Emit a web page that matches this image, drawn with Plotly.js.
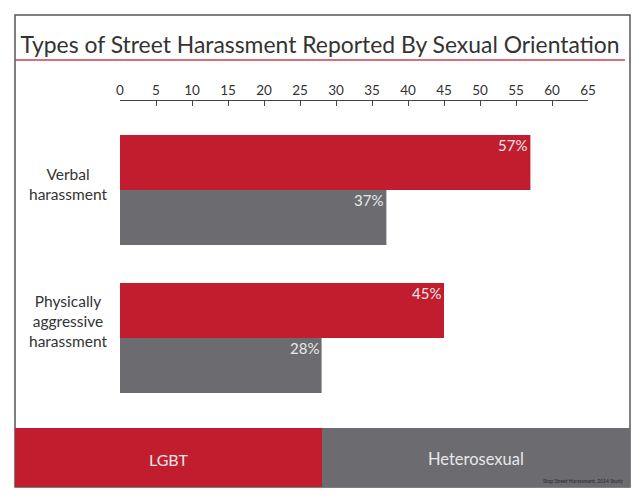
<!DOCTYPE html>
<html>
<head>
<meta charset="utf-8">
<script src="https://cdn.plot.ly/plotly-3.0.1.min.js"></script>
<style>html,body{margin:0;padding:0;background:#fff;}#chart{width:640px;height:504px;}</style>
</head>
<body>
<div id="chart"></div>
<script>
// ---- data ----
var categories = ["Verbal<br>harassment", "Physically<br>aggressive<br>harassment"];
var seriesNames = ["LGBT", "Heterosexual"];
var lgbtValues = [57, 45];
var heteroValues = [37, 28];
var tickValues = [0, 5, 10, 15, 20, 25, 30, 35, 40, 45, 50, 55, 60, 65];
var titleText = "Types of Street Harassment Reported By Sexual Orientation";
var sourceText = "Stop Street Harassment, 2014 Study";

var RED = "#c21d2f";
var GRAY = "#6b6b70";
var FONT = "Lato, 'Open Sans', sans-serif";

// layout geometry (pixels)
var W = 640, H = 504;
var M = {l: 120, r: 52, t: 100, b: 92};
var pw = W - M.l - M.r, ph = H - M.t - M.b;
function px(x) { return (x - M.l) / pw; }
function py(y) { return (H - M.b - y) / ph; }

var traces = [
  {type: "bar", orientation: "h", name: seriesNames[0], y: categories, x: lgbtValues,
   marker: {color: RED}, hoverinfo: "none"},
  {type: "bar", orientation: "h", name: seriesNames[1], y: categories, x: heteroValues,
   marker: {color: GRAY}, hoverinfo: "none"}
];

var annotations = [];
// value labels
for (var i = 0; i < categories.length; i++) {
  annotations.push({x: lgbtValues[i], y: categories[i], xref: "x", yref: "y",
    text: lgbtValues[i] + "%", showarrow: false, xanchor: "right", yanchor: "top",
    xshift: -1, yshift: 56, font: {family: FONT, size: 15, color: "#e8e8e8"}});
  annotations.push({x: heteroValues[i], y: categories[i], xref: "x", yref: "y",
    text: heteroValues[i] + "%", showarrow: false, xanchor: "right", yanchor: "top",
    xshift: -1, yshift: 1, font: {family: FONT, size: 15, color: "#e8e8e8"}});
}
// category labels
var catShift = [6, 17];
for (var j = 0; j < categories.length; j++) {
  annotations.push({x: px(68), y: categories[j], xref: "paper", yref: "y",
    text: categories[j], showarrow: false, align: "center", xanchor: "center",
    yanchor: "middle", yshift: catShift[j],
    font: {family: FONT, size: 15.5, color: "#333"}});
}
// legend labels
annotations.push({x: px(168), y: py(459), xref: "paper", yref: "paper", text: seriesNames[0],
  xanchor: "center", yanchor: "middle",
  showarrow: false, font: {family: FONT, size: 16, color: "#e8e8e8"}});
annotations.push({x: px(476), y: py(459), xref: "paper", yref: "paper", text: seriesNames[1],
  xanchor: "center", yanchor: "middle",
  showarrow: false, font: {family: FONT, size: 16.5, color: "#e8e8e8"}});
// source
annotations.push({x: px(625), y: py(481), xref: "paper", yref: "paper", text: sourceText,
  showarrow: false, xanchor: "right", yanchor: "middle",
  font: {family: FONT, size: 5, color: "#2a2a2a"}});

var shapes = [
  // outer border
  {type: "rect", xref: "paper", yref: "paper", x0: px(15), x1: px(630), y0: py(487), y1: py(15),
   line: {color: "#555", width: 1.5}, fillcolor: "rgba(0,0,0,0)", layer: "below"},
  // title underline
  {type: "line", xref: "paper", yref: "paper", x0: px(15), x1: px(625), y0: py(60), y1: py(60),
   line: {color: "#cc3e52", width: 1.5}},
  // legend blocks
  {type: "rect", xref: "paper", yref: "paper", x0: px(15), x1: px(322), y0: py(487), y1: py(428),
   line: {width: 0}, fillcolor: RED},
  {type: "rect", xref: "paper", yref: "paper", x0: px(322), x1: px(630), y0: py(487), y1: py(428),
   line: {width: 0}, fillcolor: GRAY}
];

var layout = {
  width: W, height: H,
  margin: M,
  paper_bgcolor: "#fff", plot_bgcolor: "#fff",
  showlegend: false,
  barmode: "group", bargap: 0.257, bargroupgap: 0,
  title: {text: titleText, x: 0.5, xref: "container", xanchor: "center",
    y: 1 - 45 / H, yref: "container", yanchor: "middle",
    font: {family: FONT, size: 22.9, color: "#333"}},
  xaxis: {range: [0, 65], side: "top", anchor: "free", position: 1,
    tickvals: tickValues, ticktext: tickValues.map(String),
    ticks: "inside", ticklen: 5, tickcolor: "#444", tickwidth: 1,
    showline: true, linecolor: "#444", linewidth: 1, showgrid: false, zeroline: false,
    tickfont: {family: FONT, size: 13.5, color: "#333"}, fixedrange: true},
  yaxis: {type: "category", range: [1.5, -0.5], domain: [0, py(116)],
    showticklabels: false, ticks: "", showgrid: false, zeroline: false, showline: false,
    fixedrange: true},
  annotations: annotations,
  shapes: shapes
};

Plotly.newPlot("chart", traces, layout, {displayModeBar: false, staticPlot: true});
</script>
</body>
</html>
